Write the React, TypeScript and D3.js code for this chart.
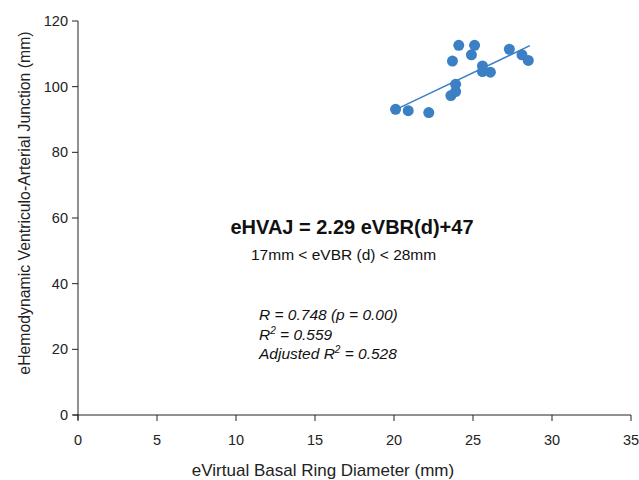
import React from 'react';
import * as d3 from 'd3';

// eVirtual Basal Ring Diameter (mm)
const evbr = [20.1, 20.9, 22.2, 23.6, 23.9, 23.9, 23.7, 24.1, 25.1, 24.9, 25.6, 25.6, 26.1, 27.3, 28.1, 28.5];
// eHemodynamic Ventriculo-Arterial Junction (mm)
const ehvaj = [93.1, 92.7, 92.1, 97.3, 98.5, 100.7, 107.8, 112.6, 112.6, 109.7, 106.3, 104.6, 104.4, 111.4, 109.7, 108.0];

const xTicks = [0, 5, 10, 15, 20, 25, 30, 35];
const yTicks = [0, 20, 40, 60, 80, 100, 120];

const slope = 2.29;
const intercept = 47;
const fitRange = [20.2, 28.6];

const W = 639;
const H = 480;
const left = 78;
const right = 631;
const top = 21;
const bottom = 415;

const blue = '#3b7fc4';

export default function App() {
  const x = d3.scaleLinear().domain([0, 35]).range([left, right]);
  const y = d3.scaleLinear().domain([0, 120]).range([bottom, top]);

  const line = d3.line<number>()
    .x(d => x(d))
    .y(d => y(slope * d + intercept));

  const font = '"Liberation Sans", Arial, sans-serif';

  return (
    <svg width={W} height={H} style={{ position: 'absolute', left: 0, top: 0, background: '#fff' }}
      fontFamily={font}>
      {/* axes */}
      <line x1={left} x2={left} y1={top} y2={bottom + 5} stroke="#222" strokeWidth={1} />
      <line x1={left - 5} x2={right} y1={bottom} y2={bottom} stroke="#222" strokeWidth={1} />
      {yTicks.map(t => (
        <g key={'y' + t}>
          <line x1={left - 6} x2={left} y1={y(t)} y2={y(t)} stroke="#222" />
          <text x={left - 10} y={y(t) + 5} textAnchor="end" fontSize={14.5} fill="#222">{t}</text>
        </g>
      ))}
      {xTicks.map(t => (
        <g key={'x' + t}>
          <line x1={x(t)} x2={x(t)} y1={bottom} y2={bottom + 6} stroke="#222" />
          <text x={x(t)} y={bottom + 30} textAnchor="middle" fontSize={14.5} fill="#222">{t}</text>
        </g>
      ))}
      <text x={323} y={476} textAnchor="middle" fontSize={17} fill="#222">eVirtual Basal Ring Diameter (mm)</text>
      <text transform={`translate(30,203) rotate(-90)`} textAnchor="middle" fontSize={15.8} fill="#222">
        eHemodynamic Ventriculo-Arterial Junction (mm)
      </text>

      {/* fit line */}
      <path d={line(fitRange) || ''} fill="none" stroke={blue} strokeWidth={1.5} />

      {/* points */}
      {evbr.map((v, i) => (
        <circle key={i} cx={x(v)} cy={y(ehvaj[i])} r={5.5} fill={blue} />
      ))}

      {/* annotations */}
      <text x={352} y={234} textAnchor="middle" fontSize={20} fontWeight="bold" fill="#111">eHVAJ = 2.29 eVBR(d)+47</text>
      <text x={251} y={260} fontSize={15.5} fill="#111">17mm &lt; eVBR (d) &lt; 28mm</text>
      <g fontSize={15.5} fontStyle="italic" fill="#111">
        <text x={259} y={320}>R = 0.748 (p = 0.00)</text>
        <text x={259} y={340}>R<tspan dy={-6} fontSize={10}>2</tspan><tspan dy={6}> = 0.559</tspan></text>
        <text x={259} y={359}>Adjusted R<tspan dy={-6} fontSize={10}>2</tspan><tspan dy={6}> = 0.528</tspan></text>
      </g>
    </svg>
  );
}
